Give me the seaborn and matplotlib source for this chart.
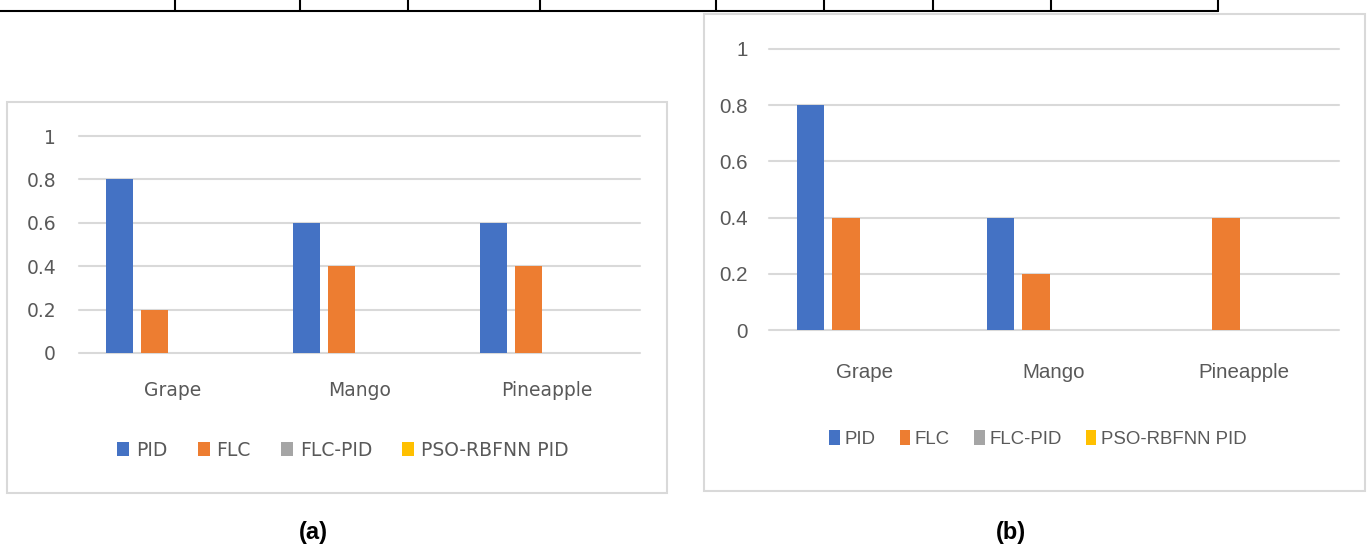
import matplotlib
matplotlib.use("Agg")
import matplotlib.pyplot as plt
from matplotlib import font_manager
from matplotlib.patches import Rectangle, Patch
from matplotlib.lines import Line2D
import pandas as pd
import seaborn as sns

# ---- data -------------------------------------------------------------
fruits = ["Grape", "Mango", "Pineapple"]
controllers = ["PID", "FLC", "FLC-PID", "PSO-RBFNN PID"]
colors = ["#4472C4", "#ED7D31", "#A5A5A5", "#FFC000"]

pid_a = [0.8, 0.6, 0.6]
flc_a = [0.2, 0.4, 0.4]
flcpid_a = [0.0, 0.0, 0.0]
pso_a = [0.0, 0.0, 0.0]

pid_b = [0.8, 0.4, 0.0]
flc_b = [0.4, 0.2, 0.4]
flcpid_b = [0.0, 0.0, 0.0]
pso_b = [0.0, 0.0, 0.0]

y_ticks = [0, 0.2, 0.4, 0.6, 0.8, 1]
y_tick_labels = ["0", "0.2", "0.4", "0.6", "0.8", "1"]
panel_labels = ["(a)", "(b)"]

# ---- layout helpers (pixel geometry of a 1371 x 546 canvas) ------------
W, H = 1371, 546
TEXT = "#595959"
GRID = "#d9d9d9"


def fx(px):
    return px / W


def fy(py):
    return 1 - py / H


def rect(x0, y0, x1, y1):
    return [x0 / W, 1 - y1 / H, (x1 - x0) / W, (y1 - y0) / H]


def long_form(series):
    rows = []
    for name, vals in zip(controllers, series):
        for fruit, v in zip(fruits, vals):
            rows.append({"fruit": fruit, "controller": name, "value": v})
    return pd.DataFrame(rows)


sns.set_style("white")
installed = {f.name for f in font_manager.fontManager.ttflist}
if "Liberation Sans Narrow" in installed:
    right_family, right_tick, right_leg = "Liberation Sans Narrow", 17, 15.5
else:
    right_family, right_tick, right_leg = "Liberation Sans", 14.8, 13.4
plt.rcParams["font.family"] = ["DejaVu Sans"]

fig = plt.figure(figsize=(W / 100, H / 100), dpi=100)
fig.patch.set_facecolor("white")

# table rule lines along the top edge
fig.add_artist(Line2D([fx(0), fx(1218)], [fy(11), fy(11)], color="black",
                      lw=1.5, transform=fig.transFigure))
for vx in [175, 300, 408, 540, 716, 824, 933, 1051, 1218]:
    fig.add_artist(Line2D([fx(vx), fx(vx)], [fy(0), fy(11)], color="black",
                          lw=1.5, transform=fig.transFigure))

panels = [
    dict(series=[pid_a, flc_a, flcpid_a, pso_a],
         box=(7, 102, 667, 493), axes=(79, 136, 640, 353),
         family="DejaVu Sans", tick_size=13.5, legend_size=13.5,
         ypad=16.5, xpad=20, legend_xy=(343, 450),
         handle=(0.64, 0.8), textpad=0.37, colspace=1.6,
         label_xy=(313, 533)),
    dict(series=[pid_b, flc_b, flcpid_b, pso_b],
         box=(704, 14, 1365, 491), axes=(769, 49, 1339, 330),
         family=right_family, tick_size=right_tick,
         legend_size=right_leg,
         ypad=15, xpad=24, legend_xy=(1038, 439),
         handle=(0.56, 0.85), textpad=0.25, colspace=1.3,
         label_xy=(1011, 532)),
]

for p, plabel in zip(panels, panel_labels):
    bx0, by0, bx1, by1 = p["box"]
    fig.add_artist(Rectangle((fx(bx0), fy(by1)), (bx1 - bx0) / W,
                             (by1 - by0) / H, transform=fig.transFigure,
                             fill=False, edgecolor=GRID, lw=1.5))

    ax = fig.add_axes(rect(*p["axes"]))
    df = long_form(p["series"])
    sns.barplot(data=df, x="fruit", y="value", hue="controller",
                order=fruits, hue_order=controllers, palette=colors,
                saturation=1, width=0.75, gap=0.23, errorbar=None,
                linewidth=0, legend=False, ax=ax)

    ax.set_ylim(0, 1)
    ax.set_xlim(-0.5, 2.5)
    ax.set_yticks(y_ticks)
    ax.set_yticklabels(y_tick_labels)
    ax.set_xlabel("")
    ax.set_ylabel("")
    ax.set_facecolor("none")
    for s in ax.spines.values():
        s.set_visible(False)
    ax.set_axisbelow(True)
    ax.yaxis.grid(True, color=GRID, lw=1.5)
    ax.xaxis.grid(False)
    for gl in ax.yaxis.get_gridlines():
        gl.set_clip_on(False)
    ax.tick_params(axis="y", length=0, pad=p["ypad"], labelcolor=TEXT,
                   labelsize=p["tick_size"])
    ax.tick_params(axis="x", length=0, pad=p["xpad"], labelcolor=TEXT,
                   labelsize=p["tick_size"])
    for t in ax.get_xticklabels() + ax.get_yticklabels():
        t.set_family(p["family"])

    handles = [Patch(facecolor=c, edgecolor="none") for c in colors]
    ax.legend(handles, controllers, loc="center",
              bbox_to_anchor=(fx(p["legend_xy"][0]), fy(p["legend_xy"][1])),
              bbox_transform=fig.transFigure, ncol=4, frameon=False,
              handlelength=p["handle"][0], handleheight=p["handle"][1],
              handletextpad=p["textpad"], columnspacing=p["colspace"],
              prop={"family": p["family"], "size": p["legend_size"]},
              labelcolor=TEXT)

    fig.text(fx(p["label_xy"][0]), fy(p["label_xy"][1]), plabel,
             ha="center", va="center", fontsize=17, fontweight="bold",
             family=["Liberation Sans", "DejaVu Sans"], color="black")

fig.savefig("out.png", dpi=100, facecolor="white")
